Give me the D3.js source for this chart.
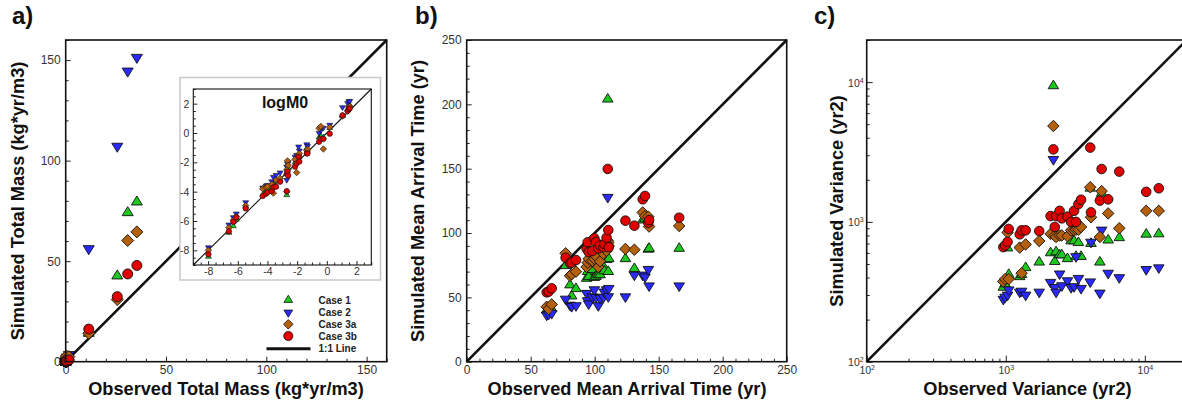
<!DOCTYPE html>
<html><head><meta charset="utf-8">
<script src="https://cdn.jsdelivr.net/npm/d3@7"></script>
<style>
body{margin:0;background:#fff}
svg{display:block}
text{font-family:"Liberation Sans",Arial,Helvetica,sans-serif}
</style>
</head><body>
<svg id="chart" width="1182" height="403"></svg>
<script>
// ---------------- DATA ----------------
const caseNames = ["Case 1", "Case 2", "Case 3a", "Case 3b"];
const caseColors = ["#1ec81e", "#2a2aff", "#b45f0c", "#e00000"];
const caseShapes = ["up", "down", "diamond", "circle"];

// Panel a + inset: log10 of total mass (kg*yr/m3), one entry per well
const logObsMass     = [-7.98,-6.6,-6.3,-6.1,-5.47,-4.32,-4.1,-4.0,-3.71,-3.6,-3.42,-3.15,-2.7,-2.7,-2.65,-2.6,-2.14,-2.03,-1.9,-1.85,-1.35,-1.3,-0.52,-0.4,-0.23,0.2,1.06,1.41,1.49,1.55];
const logSimMassCase1  = [-8.43,-6.8,-6.35,-5.9,-5.0,-4.2,-3.9,-3.8,-3.7,-3.5,-3.3,-3.2,-4.23,-2.75,-2.5,-2.4,-2.0,-1.8,-1.84,-1.6,-1.05,-1.2,-0.3,-0.2,-0.3,0.35,1.15,1.63,1.87,1.9];
const logSimMassCase2  = [-7.8,-6.25,-5.75,-5.5,-4.73,-3.73,-3.6,-3.55,-3.3,-3.0,-2.87,-2.7,-3.2,-2.3,-2.1,-2.0,-1.62,-1.5,-0.93,-1.2,-0.78,-0.9,0.0,0.2,0.35,0.55,1.75,2.03,2.16,2.18];
const logSimMassCase3a = [-8.0,-6.45,-5.95,-5.7,-4.95,-3.8,-3.7,-3.65,-3.5,-4.1,-3.2,-3.1,-4.0,-2.5,-1.9,-2.2,-1.8,-2.7,-1.5,-1.4,-1.2,-1.1,0.32,0.45,-1.09,0.4,1.15,1.49,1.78,1.81];
const logSimMassCase3b = [-8.27,-6.7,-6.05,-5.75,-5.14,-4.3,-4.15,-4.05,-3.96,-3.7,-3.66,-3.32,-3.96,-2.8,-2.64,-2.9,-2.3,-2.07,-1.62,-1.95,-1.39,-1.4,-0.6,-0.4,-0.41,-0.05,1.21,1.51,1.64,1.68];

// Panel b: mean arrival time (yr)
const obsMean       = [62.5,64,66.4,77.3,80.7,82,85.4,93.7,94.5,95.3,98.1,99.7,101,102.8,104.2,106.8,107.5,109.3,110.2,110.6,111,124,131,137.5,139.3,141.9,142.5,166];
const simMeanCase1  = [40,39,41,74.6,59.6,51,56.7,64.7,70,66,71.5,65.4,66.2,67.5,67.5,74,70.5,79.3,204,70,80,80,72.3,110,111,87.3,88,88];
const simMeanCase2  = [36.3,37,37.6,48.7,44,43,43.6,53.2,47.5,45,50.5,56,50,43.6,49.4,50.2,54.2,56,127.8,50.6,57,50.5,67.4,67.4,66,71.8,59,59];
const simMeanCase3a = [42.7,41,44.5,84.2,66.8,68,70,73.6,77,80,78.4,80,82,73.6,78,84,88,86.2,94,92.6,90,87.6,87,116,113,112.7,105,105.5];
const simMeanCase3b = [53.9,54.5,57,80.8,76.5,77,79,87.8,92.8,85.2,86,95.9,93,88,90.3,89,91.5,96.4,149.8,102.3,89,109.6,105.7,126.2,128.8,108,110,111.9];

// Panel c: variance (yr2)
const obsVar       = [960,990,1030,1050,1260,1300,1390,1740,2100,2200,2250,2300,2440,2530,2780,2950,3100,3200,3330,3480,4050,4100,4750,4890,5450,6550,10230,12600];
const simVarCase1  = [340,360,650,420,405,420,470,515,600,9400,520,610,580,580,545,730,730,565,710,565,1740,700,515,1600,740,770,815,820];
const simVarCase2  = [280,290,300,327,315,320,300,315,370,2800,340,315,425,350,380,340,345,565,395,335,373,717,310,875,430,400,457,470];
const simVarCase3a = [375,390,840,390,655,430,690,730,820,4850,800,780,800,800,790,870,870,880,880,920,1770,1080,780,1660,1150,900,1200,1200];
const simVarCase3b = [660,680,720,890,815,870,870,860,1100,3300,920,1100,1200,1060,1090,1000,1200,1000,1340,1440,3400,1170,1420,2390,1450,2290,1640,1740];

// ticks
const massTicks = [0, 50, 100, 150];
const logMassTicks = [-8, -6, -4, -2, 0, 2];
const meanTicks = [0, 50, 100, 150, 200, 250];
const varTicks = [100, 1000, 10000];

// ---------------- DRAWING ----------------
const svg = d3.select("#chart");

function shapePath(shape, r) {
  if (shape === "circle") return d3.symbol(d3.symbolCircle, Math.PI * r * r)();
  if (shape === "diamond") { const d = r * 1.2; return `M0,${-d}L${d},0L0,${d}L${-d},0Z`; }
  const w = r * 1.1, h = r * 1.8;
  if (shape === "up") return `M0,${-2*h/3}L${w},${h/3}L${-w},${h/3}Z`;
  return `M0,${2*h/3}L${w},${-h/3}L${-w},${-h/3}Z`;
}

function drawPoints(g, xs, ysList, x, y, r, sw) {
  ysList.forEach((ys, ci) => {
    g.append("g").selectAll("path").data(xs.map((v, i) => [v, ys[i]]))
      .join("path")
      .attr("d", shapePath(caseShapes[ci], r))
      .attr("transform", d => `translate(${x(d[0])},${y(d[1])})`)
      .attr("fill", caseColors[ci])
      .attr("stroke", "#111")
      .attr("stroke-width", sw);
  });
}

function linAxes(g, x, y, majors, minorStep, opts) {
  const [x0, x1] = x.domain();
  const minors = d3.range(x0, x1 + 1e-9, minorStep).filter(v => !majors.includes(v));
  const fs = opts.fs;
  g.append("g").attr("transform", `translate(0,${y.range()[0]})`)
    .call(d3.axisBottom(x).tickValues(minors).tickSize(-opts.minor).tickFormat(""))
    .call(s => s.select(".domain").remove());
  g.append("g").attr("transform", `translate(${x.range()[0]},0)`)
    .call(d3.axisLeft(y).tickValues(minors).tickSize(-opts.minor).tickFormat(""))
    .call(s => s.select(".domain").remove());
  const fmt = v => String(v);
  const ax = g.append("g").attr("transform", `translate(0,${y.range()[0]})`)
    .call(d3.axisBottom(x).tickValues(majors).tickSize(-opts.major).tickPadding(opts.padX).tickFormat(fmt))
    .call(s => s.select(".domain").remove());
  const ay = g.append("g").attr("transform", `translate(${x.range()[0]},0)`)
    .call(d3.axisLeft(y).tickValues(majors).tickSize(-opts.major).tickPadding(opts.padY).tickFormat(fmt))
    .call(s => s.select(".domain").remove());
  [ax, ay].forEach(a => a.selectAll("text").attr("font-size", fs).attr("fill", "#333")
    .attr("font-family", "'Liberation Sans',Arial,sans-serif"));
  g.selectAll(".tick line").attr("stroke", "#222").attr("stroke-width", 1);
}

function frame(g, x, y, sw, color) {
  g.append("rect")
    .attr("x", x.range()[0]).attr("y", y.range()[1])
    .attr("width", x.range()[1] - x.range()[0])
    .attr("height", y.range()[0] - y.range()[1])
    .attr("fill", "none").attr("stroke", color || "#111").attr("stroke-width", sw);
}

function titles(xt, xcx, yt, ycx, ycy, label, lx) {
  svg.append("text").attr("x", xcx).attr("y", 394.5).attr("text-anchor", "middle")
    .attr("font-size", 18.2).attr("font-weight", "bold").attr("fill", "#111").text(xt);
  svg.append("text").attr("transform", `translate(${ycx},${ycy}) rotate(-90)`)
    .attr("text-anchor", "middle").attr("dominant-baseline", "central")
    .attr("font-size", 18.2).attr("font-weight", "bold").attr("fill", "#111").text(yt);
  svg.append("text").attr("x", lx).attr("y", 24).attr("font-size", 24)
    .attr("font-weight", "bold").attr("fill", "#111").text(label);
}

// ---------- Panel a ----------
{
  const x = d3.scaleLinear().domain([0, 160]).range([65.7, 386.7]);
  const y = d3.scaleLinear().domain([0, 160]).range([361.7, 40]);
  const g = svg.append("g");
  linAxes(g, x, y, massTicks, 10, {major: 5, minor: 3, padX: 4, padY: 5, fs: 12});
  g.append("line").attr("x1", x(0)).attr("y1", y(0)).attr("x2", x(160)).attr("y2", y(160))
    .attr("stroke", "#111").attr("stroke-width", 2.6);
  const lin = v => Math.pow(10, v);
  drawPoints(g, logObsMass.map(lin),
    [logSimMassCase1, logSimMassCase2, logSimMassCase3a, logSimMassCase3b].map(a => a.map(lin)),
    x, y, 5, 0.9);
  frame(g, x, y, 1.6);

  // inset
  const ig = svg.append("g");
  ig.append("rect").attr("x", 180).attr("y", 77.5).attr("width", 200.5).attr("height", 202.5)
    .attr("fill", "#fff").attr("stroke", "#c8c8c8").attr("stroke-width", 1.5);
  const ix = d3.scaleLinear().domain([-9, 3]).range([193.3, 371.3]);
  const iy = d3.scaleLinear().domain([-9, 3]).range([265, 89]);
  linAxes(ig, ix, iy, logMassTicks, 0.5, {major: 4, minor: 2.5, padX: 3, padY: 4, fs: 10.5});
  ig.append("line").attr("x1", ix(-9)).attr("y1", iy(-9)).attr("x2", ix(3)).attr("y2", iy(3))
    .attr("stroke", "#111").attr("stroke-width", 1.1);
  drawPoints(ig, logObsMass, [logSimMassCase1, logSimMassCase2, logSimMassCase3a, logSimMassCase3b],
    ix, iy, 2.7, 0.6);
  frame(ig, ix, iy, 1.1);
  ig.append("text").attr("x", 285).attr("y", 108).attr("text-anchor", "middle")
    .attr("font-size", 16).attr("font-weight", "bold").attr("fill", "#111").text("logM0");

  // legend
  const lg = svg.append("g");
  const rowsY = [300, 312.5, 324.3, 336];
  caseNames.forEach((n, i) => {
    lg.append("path").attr("d", shapePath(caseShapes[i], i === 3 ? 4.6 : 4))
      .attr("transform", `translate(288.3,${rowsY[i]})`)
      .attr("fill", caseColors[i]).attr("stroke", "#111").attr("stroke-width", 0.8);
    lg.append("text").attr("x", 318.5).attr("y", rowsY[i]).attr("dominant-baseline", "central")
      .attr("font-size", 10).attr("font-weight", "bold").attr("fill", "#222").text(n);
  });
  lg.append("line").attr("x1", 266.5).attr("x2", 310.5).attr("y1", 348.8).attr("y2", 348.8)
    .attr("stroke", "#111").attr("stroke-width", 3);
  lg.append("text").attr("x", 318.5).attr("y", 348.8).attr("dominant-baseline", "central")
    .attr("font-size", 10).attr("font-weight", "bold").attr("fill", "#222").text("1:1 Line");

  titles("Observed Total Mass (kg*yr/m3)", 226, "Simulated Total Mass (kg*yr/m3)", 17.5, 201, "a)", 12);
}

// ---------- Panel b ----------
{
  const x = d3.scaleLinear().domain([0, 250]).range([466.7, 786.7]);
  const y = d3.scaleLinear().domain([0, 250]).range([361.7, 40]);
  const g = svg.append("g");
  linAxes(g, x, y, meanTicks, 10, {major: 5, minor: 3, padX: 4, padY: 5, fs: 12});
  g.append("line").attr("x1", x(0)).attr("y1", y(0)).attr("x2", x(250)).attr("y2", y(250))
    .attr("stroke", "#111").attr("stroke-width", 2.6);
  drawPoints(g, obsMean, [simMeanCase1, simMeanCase2, simMeanCase3a, simMeanCase3b], x, y, 4.8, 0.9);
  frame(g, x, y, 1.6);
  titles("Observed Mean Arrival Time (yr)", 627, "Simulated Mean Arrival Time (yr)", 418, 201, "b)", 415);
}

// ---------- Panel c ----------
{
  const x = d3.scaleLog().domain([100, 20000]).range([866.7, 1186.7]);
  const y = d3.scaleLog().domain([100, 20000]).range([361.7, 40]);
  const g = svg.append("g");
  const minors = [];
  [100, 1000, 10000].forEach(d => { for (let k = 2; k <= 9; k++) if (d * k <= 20000) minors.push(d * k); });
  g.append("g").attr("transform", `translate(0,${y.range()[0]})`)
    .call(d3.axisBottom(x).tickValues(minors).tickSize(-3).tickFormat(""))
    .call(s => s.select(".domain").remove());
  g.append("g").attr("transform", `translate(${x.range()[0]},0)`)
    .call(d3.axisLeft(y).tickValues(minors).tickSize(-3).tickFormat(""))
    .call(s => s.select(".domain").remove());
  const ax = g.append("g").attr("transform", `translate(0,${y.range()[0]})`)
    .call(d3.axisBottom(x).tickValues(varTicks).tickSize(-6).tickFormat(""))
    .call(s => s.select(".domain").remove());
  const ay = g.append("g").attr("transform", `translate(${x.range()[0]},0)`)
    .call(d3.axisLeft(y).tickValues(varTicks).tickSize(-6).tickFormat(""))
    .call(s => s.select(".domain").remove());
  g.selectAll(".tick line").attr("stroke", "#222").attr("stroke-width", 1);
  ax.selectAll(".tick").append("text").attr("y", 12.5).attr("text-anchor", "middle")
    .attr("fill", "#333").attr("font-size", 10.5)
    .each(function(d) {
      const t = d3.select(this);
      t.append("tspan").text("10");
      t.append("tspan").attr("dy", -4).attr("font-size", 7).text(Math.round(Math.log10(d)));
    });
  ay.selectAll(".tick").append("text").attr("x", -3).attr("y", 4).attr("text-anchor", "end")
    .attr("fill", "#333").attr("font-size", 10.5)
    .each(function(d) {
      const t = d3.select(this);
      t.append("tspan").text("10");
      t.append("tspan").attr("dy", -4).attr("font-size", 7).text(Math.round(Math.log10(d)));
    });
  g.append("line").attr("x1", x(100)).attr("y1", y(100)).attr("x2", x(20000)).attr("y2", y(20000))
    .attr("stroke", "#111").attr("stroke-width", 2.6);
  drawPoints(g, obsVar, [simVarCase1, simVarCase2, simVarCase3a, simVarCase3b], x, y, 4.8, 0.9);
  frame(g, x, y, 1.6);
  titles("Observed Variance (yr2)", 1027.5, "Simulated Variance (yr2)", 837, 201, "c)", 814);
}
</script>
</body></html>
